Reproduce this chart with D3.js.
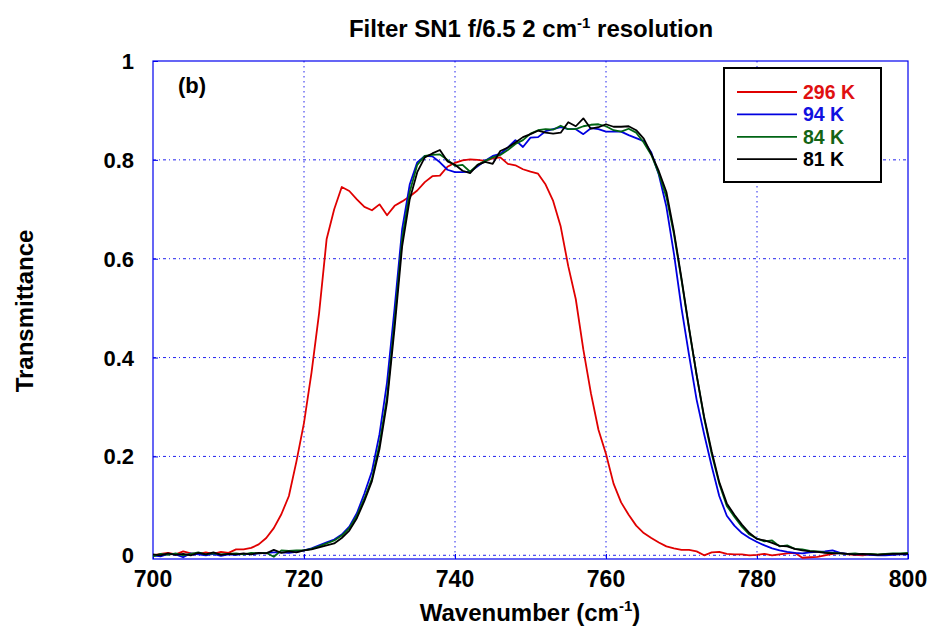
<!DOCTYPE html>
<html>
<head>
<meta charset="utf-8">
<script src="https://cdn.jsdelivr.net/npm/d3@7"></script>
<style>
  body { margin: 0; background: #fff; }
  text { font-family: "Liberation Sans", Arial, sans-serif; font-weight: bold; }
</style>
</head>
<body>
<div id="chart"></div>
<script>
// wavenumber grid, cm-1
var wavenumber = d3.range(700, 801, 1);

var t296 = [0.000,0.003,0.005,0.002,0.008,0.004,0.003,0.006,0.003,0.007,
            0.005,0.012,0.012,0.015,0.022,0.035,0.055,0.083,0.120,0.190,
            0.268,0.370,0.490,0.640,0.700,0.745,0.737,0.720,0.705,0.698,
            0.710,0.688,0.707,0.716,0.726,0.738,0.755,0.767,0.768,0.786,
            0.794,0.799,0.801,0.800,0.798,0.803,0.805,0.792,0.789,0.781,
            0.776,0.772,0.750,0.717,0.665,0.585,0.518,0.416,0.328,0.254,
            0.205,0.145,0.107,0.082,0.060,0.045,0.035,0.026,0.018,0.014,
            0.011,0.011,0.008,0.000,0.006,0.007,0.003,0.002,0.002,0.000,
            0.001,0.003,0.000,0.002,0.004,0.005,-0.005,-0.004,-0.003,0.000,
            0.003,0.005,0.002,0.001,0.000,0.002,0.001,0.003,0.002,0.003,0.004];

var t94 = [0.000,-0.002,0.003,0.002,-0.004,0.004,0.002,0.000,0.003,-0.001,
           0.002,0.001,0.003,0.002,0.004,0.005,0.006,0.006,0.005,0.007,
           0.010,0.014,0.020,0.026,0.032,0.042,0.058,0.085,0.125,0.170,
           0.245,0.350,0.500,0.660,0.750,0.795,0.808,0.807,0.795,0.780,
           0.775,0.775,0.776,0.787,0.798,0.808,0.812,0.825,0.840,0.826,
           0.845,0.846,0.858,0.862,0.866,0.862,0.862,0.852,0.864,0.862,
           0.857,0.857,0.857,0.850,0.844,0.838,0.815,0.770,0.705,0.610,
           0.500,0.405,0.315,0.245,0.180,0.120,0.080,0.060,0.045,0.035,
           0.027,0.020,0.014,0.010,0.007,0.005,0.004,0.006,0.007,0.008,
           0.010,0.005,0.003,0.002,0.002,0.001,0.000,0.000,0.001,0.002,0.002];

var t84 = [-0.002,0.003,0.001,0.004,0.000,0.003,0.006,0.002,0.004,0.002,
           0.003,0.004,0.002,0.005,0.004,0.005,-0.003,0.010,0.009,0.010,
           0.010,0.013,0.018,0.024,0.030,0.040,0.055,0.080,0.115,0.155,
           0.225,0.320,0.475,0.640,0.735,0.790,0.808,0.810,0.811,0.800,
           0.788,0.790,0.776,0.790,0.798,0.805,0.810,0.820,0.832,0.840,
           0.853,0.860,0.862,0.861,0.869,0.862,0.862,0.868,0.871,0.872,
           0.868,0.860,0.857,0.863,0.855,0.835,0.810,0.772,0.725,0.650,
           0.557,0.458,0.365,0.277,0.205,0.145,0.100,0.078,0.058,0.042,
           0.034,0.028,0.030,0.018,0.020,0.013,0.012,0.009,0.008,0.006,
           0.005,0.004,0.003,0.004,0.002,0.003,0.002,0.003,0.004,0.004,0.005];

var t81 = [0.002,0.000,0.004,0.001,0.003,0.000,0.005,0.002,0.006,0.001,
           0.003,0.002,0.004,0.002,0.005,0.004,0.011,0.005,0.008,0.006,
           0.010,0.012,0.016,0.020,0.024,0.035,0.050,0.075,0.110,0.150,
           0.215,0.310,0.460,0.625,0.720,0.775,0.805,0.813,0.820,0.797,
           0.790,0.778,0.773,0.790,0.796,0.792,0.818,0.825,0.835,0.846,
           0.852,0.859,0.855,0.853,0.855,0.876,0.868,0.884,0.863,0.866,
           0.872,0.867,0.867,0.868,0.860,0.843,0.812,0.777,0.735,0.655,
           0.560,0.460,0.365,0.280,0.210,0.148,0.105,0.082,0.062,0.045,
           0.033,0.030,0.025,0.019,0.018,0.013,0.010,0.008,0.007,0.005,
           0.004,0.004,0.003,0.002,0.003,0.002,0.001,0.002,0.003,0.003,0.003];

var seriesNames = ["296 K", "94 K", "84 K", "81 K"];
var seriesValues = [t296, t94, t84, t81];
var lineColors = ["#e00000", "#0000e0", "#006414", "#000000"];
var textColors = ["#e01010", "#1010e0", "#146414", "#000000"];

var xTicks = [700, 720, 740, 760, 780, 800];
var yTicks = [0, 0.2, 0.4, 0.6, 0.8, 1];
var yTickLabels = ["0", "0.2", "0.4", "0.6", "0.8", "1"];

function init() {
    var w = 934;
    var h = 633;
    var left = 153, right = 908, top = 61, bottom = 559;

    var x = d3.scaleLinear().domain([700, 800]).range([left, right]);
    var y = d3.scaleLinear().domain([-0.0075, 1]).range([bottom, top]);

    var svg = d3.select("#chart")
                .append("svg")
                .attr("width", w)
                .attr("height", h);

    var grid = "#2222ee";

    // grid lines
    svg.selectAll("line.vgrid")
        .data(xTicks.slice(1, -1))
        .enter()
        .append("line")
        .attr("x1", function(d) { return x(d); })
        .attr("x2", function(d) { return x(d); })
        .attr("y1", top)
        .attr("y2", bottom)
        .attr("stroke", grid)
        .attr("stroke-width", 1)
        .attr("stroke-dasharray", "1.5,3.5");

    svg.selectAll("line.hgrid")
        .data(yTicks.slice(0, -1))
        .enter()
        .append("line")
        .attr("x1", left)
        .attr("x2", right)
        .attr("y1", function(d) { return y(d); })
        .attr("y2", function(d) { return y(d); })
        .attr("stroke", grid)
        .attr("stroke-width", 1)
        .attr("stroke-dasharray", "3,3,1,3");

    // frame
    svg.append("rect")
        .attr("x", left)
        .attr("y", top)
        .attr("width", right - left)
        .attr("height", bottom - top)
        .attr("fill", "none")
        .attr("stroke", "#0000ee")
        .attr("stroke-width", 1.2);

    // inward ticks
    var xAxis = d3.axisBottom(x).tickValues(xTicks).tickSize(-5).tickFormat("");
    var yAxis = d3.axisLeft(y).tickValues(yTicks).tickSize(-5).tickFormat("");
    svg.append("g").attr("transform", "translate(0," + bottom + ")").call(xAxis);
    svg.append("g").attr("transform", "translate(" + left + ",0)").call(yAxis);
    svg.selectAll(".domain").remove();
    svg.selectAll(".tick line").attr("stroke", "#0000ee");

    // tick labels
    svg.selectAll("text.xlab")
        .data(xTicks)
        .enter()
        .append("text")
        .attr("x", function(d) { return x(d); })
        .attr("y", 587)
        .attr("text-anchor", "middle")
        .attr("font-size", 23)
        .text(function(d) { return d; });

    svg.selectAll("text.ylab")
        .data(yTicks)
        .enter()
        .append("text")
        .attr("x", 134)
        .attr("y", function(d) { return y(d) + 8; })
        .attr("text-anchor", "end")
        .attr("font-size", 22)
        .text(function(d, i) { return yTickLabels[i]; });

    // curves
    var line = d3.line()
        .x(function(d) { return x(d[0]); })
        .y(function(d) { return y(d[1]); });

    seriesValues.forEach(function(vals, i) {
        svg.append("path")
            .datum(wavenumber.map(function(wn, j) { return [wn, vals[j]]; }))
            .attr("fill", "none")
            .attr("stroke", lineColors[i])
            .attr("stroke-width", 1.8)
            .attr("stroke-linejoin", "round")
            .attr("d", line);
    });

    // title
    var title = svg.append("text")
        .attr("x", 531)
        .attr("y", 37)
        .attr("text-anchor", "middle")
        .attr("font-size", 24);
    title.append("tspan").text("Filter SN1 f/6.5 2 cm");
    title.append("tspan").attr("dy", -9).attr("font-size", 15).text("-1");
    title.append("tspan").attr("dy", 9).text(" resolution");

    // axis titles
    var xt = svg.append("text")
        .attr("x", 530)
        .attr("y", 621)
        .attr("text-anchor", "middle")
        .attr("font-size", 24);
    xt.append("tspan").text("Wavenumber (cm");
    xt.append("tspan").attr("dy", -10).attr("font-size", 15).text("-1");
    xt.append("tspan").attr("dy", 10).text(")");

    svg.append("text")
        .attr("transform", "translate(33,311) rotate(-90)")
        .attr("text-anchor", "middle")
        .attr("font-size", 24)
        .text("Transmittance");

    svg.append("text")
        .attr("x", 178)
        .attr("y", 93)
        .attr("font-size", 22)
        .text("(b)");

    // legend
    var lg = svg.append("g");
    lg.append("rect")
        .attr("x", 724)
        .attr("y", 68)
        .attr("width", 157)
        .attr("height", 114)
        .attr("fill", "#fff")
        .attr("stroke", "#000")
        .attr("stroke-width", 2);

    var rows = lg.selectAll("g.row")
        .data(seriesNames)
        .enter()
        .append("g")
        .attr("transform", function(d, i) { return "translate(0," + (92 + i * 22.4) + ")"; });

    rows.append("line")
        .attr("x1", 737)
        .attr("x2", 797)
        .attr("stroke", function(d, i) { return lineColors[i]; })
        .attr("stroke-width", 1.8);

    rows.append("text")
        .attr("x", 803)
        .attr("y", 7)
        .attr("font-size", 19.5)
        .attr("fill", function(d, i) { return textColors[i]; })
        .text(function(d) { return d; });
}
window.onload = init;
</script>
</body>
</html>
